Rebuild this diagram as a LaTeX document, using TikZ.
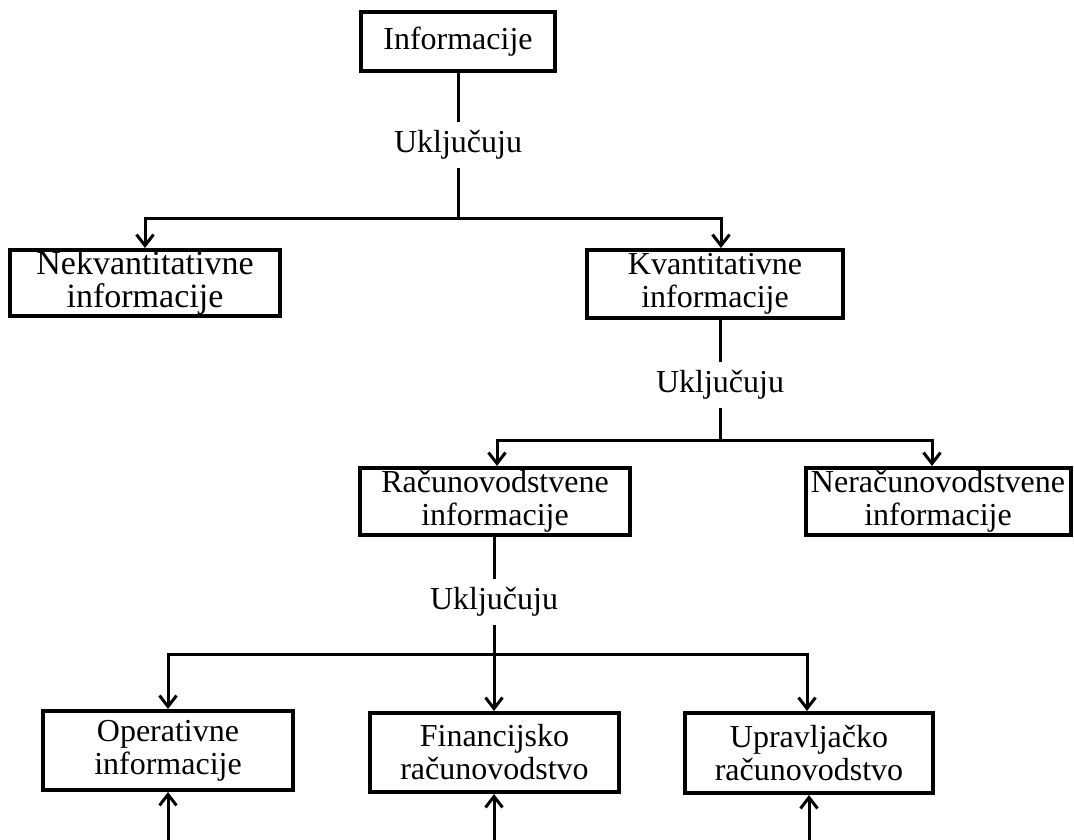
\documentclass[tikz,border=0pt]{standalone}
\usepackage{fontspec}
\setmainfont{Liberation Serif}
\usetikzlibrary{arrows.meta}
\tikzset{
  box/.style={draw, line width=4pt, inner sep=0pt, align=center,
    font=\fontsize{32}{33}\selectfont},
  lbl/.style={inner xsep=2pt, inner ysep=8pt, font=\fontsize{32}{33}\selectfont},
  conn/.style={line width=3pt},
  arr/.style={conn, -{Straight Barb[length=11pt,width=17pt,line width=3pt]}}
}
\begin{document}
\begin{tikzpicture}[x=1pt,y=-1pt]
\useasboundingbox (0,0) rectangle (1074,840);
% boxes
\node[box, minimum width=194pt, minimum height=59pt] (info) at (458,41.5) {Informacije};
\node[box, minimum width=270pt, minimum height=66pt, font=\fontsize{34}{33}\selectfont] (nekv) at (145,283) {Nekvantitativne\\informacije};
\node[box, minimum width=256pt, minimum height=68pt] (kvant) at (715,284) {Kvantitativne\\informacije};
\node[box, minimum width=270pt, minimum height=67pt] (racun) at (495,501.5) {Računovodstvene\\informacije};
\node[box, minimum width=265pt, minimum height=67pt] (nerac) at (938,501.5) {Neračunovodstvene\\informacije};
\node[box, minimum width=250pt, minimum height=79pt] (oper) at (168,750.5) {Operativne\\informacije};
\node[box, minimum width=249pt, minimum height=79pt] (fin) at (494.5,752.5) {Financijsko\\računovodstvo};
\node[box, minimum width=248pt, minimum height=80pt] (upr) at (809,753) {Upravljačko\\računovodstvo};
% labels
\node[lbl] (u1) at (458,145) {Uključuju};
\node[lbl] (u2) at (720,385) {Uključuju};
\node[lbl] (u3) at (494,602) {Uključuju};
% junctions
\coordinate (j1) at (458,218);
\coordinate (j2) at (720,440);
\coordinate (j3) at (494,654);
\coordinate (b1) at (168,840);
\coordinate (b2) at (494,840);
\coordinate (b3) at (809,840);
% connectors level 1
\draw[conn] (info.south) -- (u1.north);
\draw[conn] (u1.south) -- (j1);
\draw[arr] (j1) -| (nekv.north);
\draw[arr] (j1) -| ([xshift=6pt]kvant.north);
% level 2
\draw[conn] ([xshift=5pt]kvant.south) -- (u2.north);
\draw[conn] (u2.south) -- (j2);
\draw[arr] (j2) -| ([xshift=2pt]racun.north);
\draw[arr] (j2) -| ([xshift=-6pt]nerac.north);
% level 3
\draw[conn] ([xshift=-1pt]racun.south) -- (u3.north);
\draw[conn] (u3.south) -- (j3);
\draw[arr] (j3) -| (oper.north);
\draw[arr] (j3) -- (fin.north -| j3);
\draw[arr] (j3) -| ([xshift=-2pt]upr.north);
% bottom arrows
\draw[arr] (b1) -- (oper.south);
\draw[arr] (b2) -- (fin.south -| b2);
\draw[arr] (b3) -- (upr.south);
\end{tikzpicture}
\end{document}
